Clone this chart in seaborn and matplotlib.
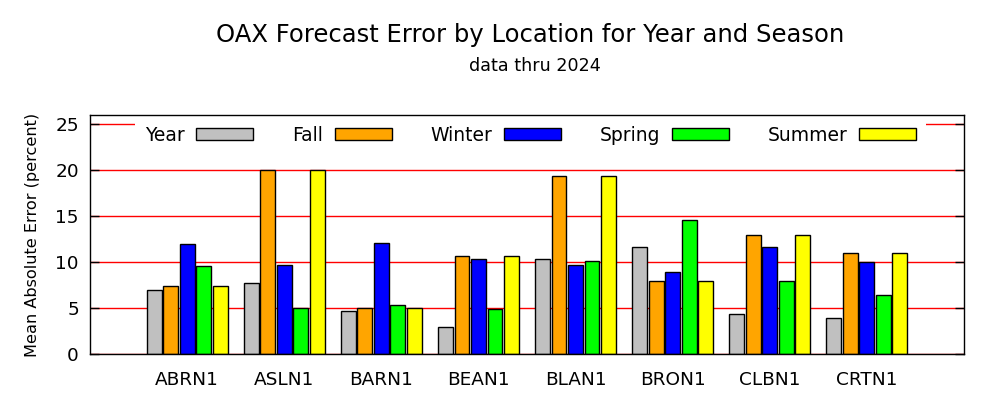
import matplotlib
matplotlib.use("Agg")
import matplotlib.pyplot as plt
import seaborn as sns
import pandas as pd

locations = ["ABRN1", "ASLN1", "BARN1", "BEAN1", "BLAN1", "BRON1", "CLBN1", "CRTN1"]
seasons = ["Year", "Fall", "Winter", "Spring", "Summer"]
year = [7.0, 7.7, 4.7, 2.9, 10.3, 11.6, 4.35, 3.9]
fall = [7.4, 20.0, 5.0, 10.65, 19.35, 7.93, 12.93, 10.98]
winter = [11.96, 9.67, 12.07, 10.33, 9.67, 8.91, 11.63, 10.0]
spring = [9.57, 5.0, 5.33, 4.89, 10.11, 14.57, 7.93, 6.41]
summer = [7.4, 20.0, 5.0, 10.65, 19.35, 7.93, 12.93, 10.98]
colors = ["#c0c0c0", "#ffa500", "#0000ff", "#00ff00", "#ffff00"]

series = [year, fall, winter, spring, summer]
rows = []
for s, vals in zip(seasons, series):
    for loc, v in zip(locations, vals):
        rows.append({"loc": loc, "season": s, "val": v})
df = pd.DataFrame(rows)

sns.set_style("white")
plt.rcParams["font.family"] = ["DejaVu Sans"]
plt.rcParams["text.color"] = "black"
plt.rcParams["axes.labelcolor"] = "black"
plt.rcParams["xtick.color"] = "black"
plt.rcParams["ytick.color"] = "black"

fig = plt.figure(figsize=(10, 4), dpi=100)
ax = fig.add_axes([0.09, 0.115, 0.874, 0.5975])

sns.barplot(data=df, x="loc", y="val", hue="season", hue_order=seasons,
            palette=colors, edgecolor="black", linewidth=1, width=0.85,
            gap=0.1, ax=ax, legend=True, errorbar=None, saturation=1)

ax.set_xlim(-1, 8)
ax.set_ylim(0, 26)
ax.set_yticks([0, 5, 10, 15, 20, 25])
ax.set_axisbelow(True)
ax.yaxis.grid(True, color="red", linewidth=1)
ax.xaxis.grid(False)
for sp in ax.spines.values():
    sp.set_visible(True)
    sp.set_color("black")
    sp.set_linewidth(1)
    sp.set_zorder(3)
ax.tick_params(axis="y", direction="in", length=6.5, width=1, left=True,
               right=True, labelsize=13.3, color="black", labelcolor="black", pad=8)
ax.tick_params(axis="x", length=0, labelsize=13.3, labelcolor="black", pad=12)
ax.set_xlabel("")
ax.set_ylabel("Mean Absolute Error (percent)", fontsize=11.6, labelpad=11, color="black")

handles, labels = ax.get_legend_handles_labels()
leg = ax.legend(handles, labels, ncol=5, loc="center", bbox_to_anchor=(0.504, 0.916),
                markerfirst=False, frameon=True, fontsize=13.5, handlelength=3.04,
                handleheight=0.62, handletextpad=0.64, columnspacing=2.05,
                borderpad=0.5, fancybox=False, labelcolor="black")
leg.get_frame().set_edgecolor("none")
leg.get_frame().set_facecolor("white")
leg.get_frame().set_alpha(1)
leg.set_zorder(2.2)

fig.text(0.53, 0.912, "OAX Forecast Error by Location for Year and Season",
         ha="center", va="center", fontsize=17.5, color="black")
fig.text(0.535, 0.835, "data thru 2024", ha="center", va="center", fontsize=12.6,
         color="black")

fig.savefig("out.png", dpi=100)
